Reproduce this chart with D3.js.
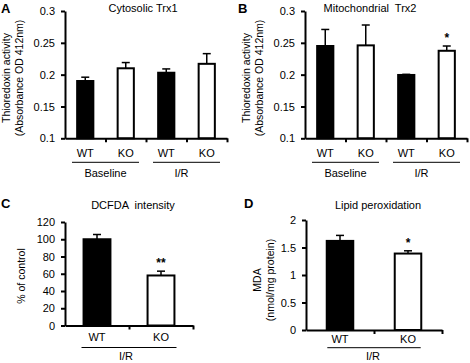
<!DOCTYPE html>
<html>
<head>
<meta charset="utf-8">
<script src="https://cdn.jsdelivr.net/npm/d3@7"></script>
<style>
  body { margin: 0; background: #fff; }
  svg { font-family: "Liberation Sans", Arial, sans-serif; }
  .axis path, .axis line { stroke: #000; stroke-width: 2; }
  .axis text { font-size: 11px; fill: #000; }
  .title { white-space: pre; }
</style>
</head>
<body>
<div id="chart"></div>
<script>
// data
var trxCategories = ["WT", "KO", "WT", "KO"];
var trxGroups = ["Baseline", "I/R"];
var trx1Mean = [0.190, 0.210, 0.203, 0.217];
var trx1Err = [0.006, 0.009, 0.006, 0.016];
var trx2Mean = [0.245, 0.246, 0.1995, 0.2375];
var trx2Err = [0.026, 0.032, 0.001, 0.0075];
var trx2Stars = ["", "", "", "*"];
var trxTicks = [0.1, 0.15, 0.2, 0.25, 0.3];
var trxTickLabels = ["0.1", "0.15", "0.2", "0.25", "0.3"];

var irCategories = ["WT", "KO"];
var irGroups = ["I/R"];
var dcfdaMean = [100, 58];
var dcfdaErr = [5.5, 5];
var dcfdaStars = ["", "**"];
var dcfdaTicks = [0, 20, 40, 60, 80, 100, 120];
var dcfdaTickLabels = ["0", "20", "40", "60", "80", "100", "120"];

var mdaMean = [1.62, 1.39];
var mdaErr = [0.1, 0.05];
var mdaStars = ["", "*"];
var mdaTicks = [0, 0.5, 1, 1.5, 2];
var mdaTickLabels = ["0", "0.5", "1", "1.5", "2"];

var barFill = ["#000", "#fff"];

var svg = d3.select("#chart").append("svg")
    .attr("width", 470)
    .attr("height", 363);

function drawPanel(p) {
    var g = svg.append("g");
    var n = p.categories.length;

    var y = d3.scaleLinear().domain(p.domain).range([p.bottom, p.top]);
    var x = d3.scaleBand()
        .domain(d3.range(n))
        .range([p.left, p.right])
        .paddingInner(p.padIn)
        .paddingOuter(p.padOut);
    var slot = d3.scaleLinear().domain([0, n]).range([p.left, p.right]);

    // bars
    g.selectAll("rect.bar")
        .data(p.mean)
        .enter()
        .append("rect")
        .attr("x", function (d, i) { return x(i); })
        .attr("y", function (d) { return y(d); })
        .attr("width", x.bandwidth())
        .attr("height", function (d) { return y(p.domain[0]) - y(d); })
        .attr("fill", function (d, i) { return barFill[i % 2]; })
        .attr("stroke", "#000")
        .attr("stroke-width", 2);

    // error bars (upper only)
    var cx = function (i) { return x(i) + x.bandwidth() / 2; };
    p.mean.forEach(function (d, i) {
        var top = y(d + p.err[i]);
        g.append("line")
            .attr("x1", cx(i)).attr("x2", cx(i))
            .attr("y1", y(d)).attr("y2", top)
            .attr("stroke", "#000").attr("stroke-width", 1.5);
        g.append("line")
            .attr("x1", cx(i) - 4).attr("x2", cx(i) + 4)
            .attr("y1", top).attr("y2", top)
            .attr("stroke", "#000").attr("stroke-width", 1.5);
        if (p.stars && p.stars[i]) {
            g.append("text")
                .attr("x", cx(i))
                .attr("y", top - 4)
                .attr("text-anchor", "middle")
                .attr("font-size", 12)
                .attr("font-weight", "bold")
                .text(p.stars[i]);
        }
    });

    // y axis
    g.append("g")
        .attr("class", "axis")
        .attr("transform", "translate(" + p.left + ",0)")
        .call(d3.axisLeft(y)
            .tickValues(p.ticks)
            .tickFormat(function (d, i) { return p.tickLabels[i]; })
            .tickSize(4)
            .tickPadding(6)
            .tickSizeOuter(0));

    // x axis: ticks at the category boundaries
    g.append("g")
        .attr("class", "axis")
        .attr("transform", "translate(0," + p.bottom + ")")
        .call(d3.axisBottom(slot)
            .tickValues(d3.range(1, n + 1))
            .tickFormat("")
            .tickSize(4)
            .tickSizeOuter(0));

    // category labels
    g.selectAll("text.cat")
        .data(p.categories)
        .enter()
        .append("text")
        .attr("x", function (d, i) { return cx(i); })
        .attr("y", p.bottom + p.catDy)
        .attr("text-anchor", "middle")
        .attr("font-size", 11)
        .text(function (d) { return d; });

    // group underlines + labels
    var per = n / p.groups.length;
    p.groups.forEach(function (grp, k) {
        var mid = slot(k * per + per / 2);
        g.append("line")
            .attr("x1", mid - p.lineHalf).attr("x2", mid + p.lineHalf)
            .attr("y1", p.bottom + p.lineDy).attr("y2", p.bottom + p.lineDy)
            .attr("stroke", "#000").attr("stroke-width", 1);
        g.append("text")
            .attr("x", mid + (p.groupShift ? p.groupShift[k] : 0))
            .attr("y", p.bottom + p.groupDy)
            .attr("text-anchor", "middle")
            .attr("font-size", 11)
            .text(grp);
    });

    // y label
    var yl = g.append("text")
        .attr("transform", "translate(" + p.ylabelX + "," + p.ylabelY + ") rotate(-90)")
        .attr("text-anchor", "middle")
        .attr("font-size", 10.5);
    p.ylabel.forEach(function (t, i) {
        yl.append("tspan")
            .attr("x", 0)
            .attr("dy", i === 0 ? 0 : 12.5)
            .text(t);
    });

    // title
    g.append("text")
        .attr("class", "title")
        .attr("x", p.titleX)
        .attr("y", p.titleY)
        .attr("text-anchor", "middle")
        .attr("font-size", 11)
        .text(p.title);

    // panel letter
    g.append("text")
        .attr("x", p.letterX)
        .attr("y", p.letterY)
        .attr("font-size", 13)
        .attr("font-weight", "bold")
        .text(p.letter);
}

drawPanel({
    letter: "A", letterX: 1, letterY: 13,
    title: "Cytosolic Trx1", titleX: 143, titleY: 12,
    categories: trxCategories, groups: trxGroups,
    mean: trx1Mean, err: trx1Err,
    domain: [0.1, 0.3], ticks: trxTicks, tickLabels: trxTickLabels,
    left: 65, right: 227, top: 11, bottom: 138.3,
    padIn: 0.6, padOut: 0.3, lineHalf: 33.5, groupShift: [0, -5],
    catDy: 19, lineDy: 24, groupDy: 39,
    ylabel: ["Thioredoxin activity", "(Absorbance OD 412nm)"],
    ylabelX: 10, ylabelY: 78
});

drawPanel({
    letter: "B", letterX: 238, letterY: 13,
    title: "Mitochondrial  Trx2", titleX: 370, titleY: 12,
    categories: trxCategories, groups: trxGroups,
    mean: trx2Mean, err: trx2Err, stars: trx2Stars,
    domain: [0.1, 0.3], ticks: trxTicks, tickLabels: trxTickLabels,
    left: 305, right: 467, top: 11, bottom: 138.3,
    padIn: 0.6, padOut: 0.3, lineHalf: 33.5, groupShift: [0, -5],
    catDy: 19, lineDy: 24, groupDy: 39,
    ylabel: ["Thioredoxin activity", "(Absorbance OD 412nm)"],
    ylabelX: 250, ylabelY: 78
});

drawPanel({
    letter: "C", letterX: 1, letterY: 208,
    title: "DCFDA  intensity", titleX: 133, titleY: 209,
    categories: irCategories, groups: irGroups,
    mean: dcfdaMean, err: dcfdaErr, stars: dcfdaStars,
    domain: [0, 120], ticks: dcfdaTicks, tickLabels: dcfdaTickLabels,
    left: 65, right: 193, top: 222, bottom: 325.5,
    padIn: 0.58, padOut: 0.29, lineHalf: 47.5, groupShift: [-3],
    catDy: 15.5, lineDy: 22, groupDy: 34.5,
    ylabel: ["% of control"],
    ylabelX: 25, ylabelY: 276
});

drawPanel({
    letter: "D", letterX: 244, letterY: 208,
    title: "Lipid peroxidation", titleX: 378, titleY: 209,
    categories: irCategories, groups: irGroups,
    mean: mdaMean, err: mdaErr, stars: mdaStars,
    domain: [0, 2], ticks: mdaTicks, tickLabels: mdaTickLabels,
    left: 306, right: 442, top: 220, bottom: 330,
    padIn: 0.61, padOut: 0.305, lineHalf: 46.7, groupShift: [-1],
    catDy: 12.5, lineDy: 17.7, groupDy: 30,
    ylabel: ["MDA", "(nmol/mg protein)"],
    ylabelX: 261, ylabelY: 280
});
</script>
</body>
</html>
